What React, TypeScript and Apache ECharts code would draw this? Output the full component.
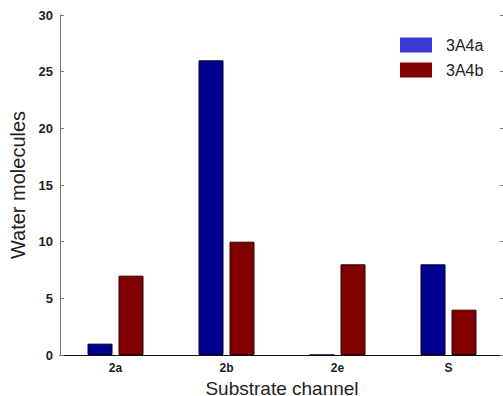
import React, { useEffect, useRef } from "react";
import * as echarts from "echarts";

const categories = ["2a", "2b", "2e", "S"];
const series3A4a = [1, 26, 0, 8];
const series3A4b = [7, 10, 8, 4];
const yTicks = [0, 5, 10, 15, 20, 25, 30];

export default function App() {
  const ref = useRef<HTMLDivElement>(null);
  useEffect(() => {
    document.body.style.margin = "0";
    const chart = echarts.init(ref.current!, null, { renderer: "svg" });
    const tickFont = { fontFamily: "Liberation Sans, Arial, sans-serif", fontWeight: "bold" as const, fontSize: 12, color: "#222" };
    chart.setOption({
      animation: false,
      backgroundColor: "#fff",
      grid: { left: 60, top: 15, width: 444, height: 340, containLabel: false, outerBoundsMode: "none" },
      legend: {
        left: 400,
        top: 37,
        padding: 0,
        orient: "vertical",
        icon: "rect",
        itemWidth: 32,
        itemHeight: 15,
        itemGap: 9,
        textStyle: { fontFamily: "Liberation Sans, Arial, sans-serif", fontSize: 16, color: "#222", padding: [0, 0, 0, 9] },
        data: [
          { name: "3A4a", itemStyle: { color: "#3a3ad6", borderWidth: 0 } },
          { name: "3A4b", itemStyle: { color: "#850000", borderWidth: 0 } },
        ],
      },
      xAxis: [
        {
          type: "category",
          data: categories,
          position: "bottom",
          axisLine: { lineStyle: { color: "#777", width: 1 } },
          axisTick: { inside: true, alignWithLabel: true, length: 4, lineStyle: { color: "#777" } },
          axisLabel: { ...tickFont, fontSize: 12, margin: 7 },
          name: "Substrate channel",
          nameLocation: "middle",
          nameGap: 17,
          nameTextStyle: { fontFamily: "Liberation Sans, Arial, sans-serif", fontSize: 19, lineHeight: 19, color: "#222", verticalAlign: "top" },
        },
        {
          type: "category",
          data: categories,
          position: "top",
          axisLine: { lineStyle: { color: "#111", width: 1 } },
          axisTick: { inside: true, alignWithLabel: true, length: 4, lineStyle: { color: "#777" } },
          axisLabel: { show: false },
        },
      ],
      yAxis: [
        {
          type: "value",
          min: 0,
          max: 30,
          interval: 5,
          position: "left",
          axisLine: { show: true, lineStyle: { color: "#777", width: 1 } },
          axisTick: { show: true, inside: true, length: 4, lineStyle: { color: "#777" } },
          axisLabel: { ...tickFont, fontSize: 13, margin: 7, formatter: (v: number) => (yTicks.includes(v) ? String(v) : "") },
          splitLine: { show: false },
          name: "Water molecules",
          nameLocation: "middle",
          nameGap: 23,
          nameRotate: 90,
          nameTextStyle: { fontFamily: "Liberation Sans, Arial, sans-serif", fontSize: 20, color: "#222" },
        },
        {
          type: "value",
          min: 0,
          max: 30,
          interval: 5,
          position: "right",
          axisLine: { show: false },
          axisTick: { show: true, inside: true, length: 4, lineStyle: { color: "#777" } },
          axisLabel: { show: false },
          splitLine: { show: false },
        },
      ],
      series: [
        {
          name: "3A4a",
          type: "bar",
          data: series3A4a,
          barWidth: 25,
          barGap: "24%",
          itemStyle: { color: "#000090", borderColor: "#000030", borderWidth: 1 },
        },
        {
          name: "3A4b",
          type: "bar",
          data: series3A4b,
          barWidth: 25,
          barGap: "24%",
          itemStyle: { color: "#800000", borderColor: "#300000", borderWidth: 1 },
        },
      ],
    });
    return () => chart.dispose();
  }, []);
  return <div ref={ref} style={{ width: 503, height: 396 }} />;
}
